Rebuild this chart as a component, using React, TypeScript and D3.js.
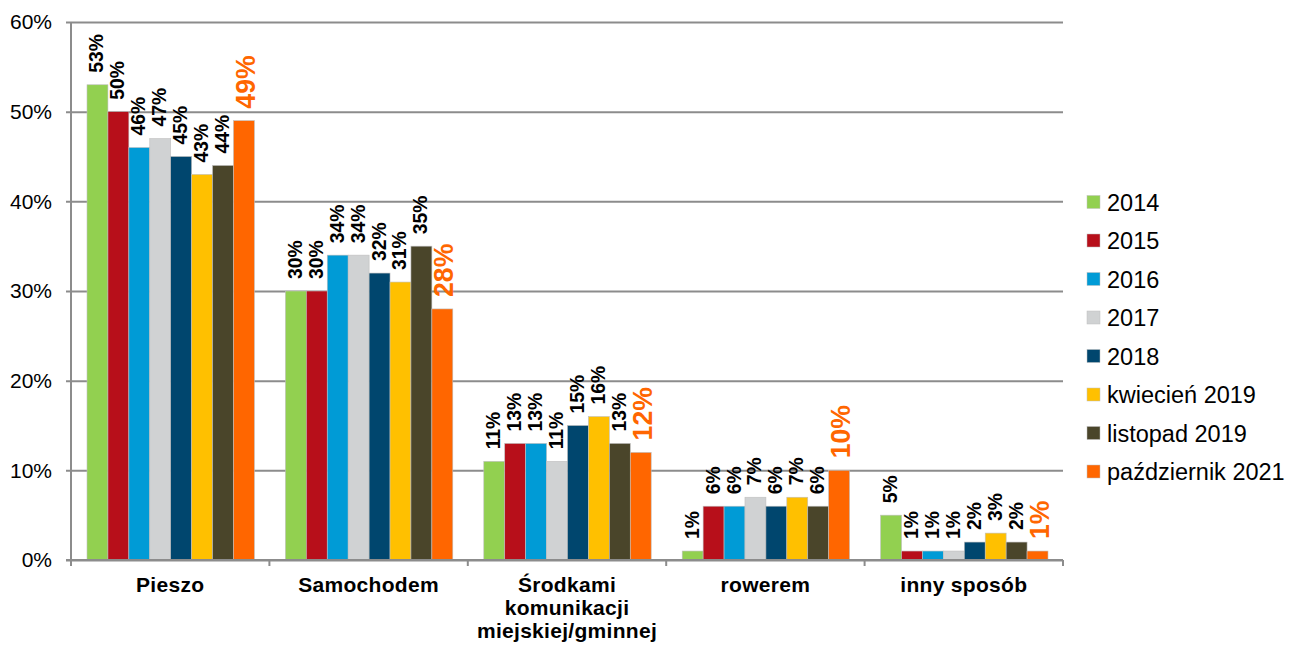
import React, { useEffect, useRef } from 'react';
import * as d3 from 'd3';

const categories = ['Pieszo', 'Samochodem', 'Środkami\nkomunikacji\nmiejskiej/gminnej', 'rowerem', 'inny sposób'];
const seriesNames = ['2014', '2015', '2016', '2017', '2018', 'kwiecień 2019', 'listopad 2019', 'październik 2021'];
const seriesColors = ['#92D050', '#B70F1A', '#009BD6', '#D0D2D3', '#00466E', '#FFC000', '#4A452A', '#FF6600'];
const values2014 = [53, 30, 11, 1, 5];
const values2015 = [50, 30, 13, 6, 1];
const values2016 = [46, 34, 13, 6, 1];
const values2017 = [47, 34, 11, 7, 1];
const values2018 = [45, 32, 15, 6, 2];
const valuesApr2019 = [43, 31, 16, 7, 3];
const valuesNov2019 = [44, 35, 13, 6, 2];
const valuesOct2021 = [49, 28, 12, 10, 1];
const allSeries = [values2014, values2015, values2016, values2017, values2018, valuesApr2019, valuesNov2019, valuesOct2021];
const yTicks = [0, 10, 20, 30, 40, 50, 60];

export default function App() {
    const svgRef = useRef<SVGSVGElement>(null);

    useEffect(() => {
        document.body.style.margin = '0';
        if (!svgRef.current) return;
        const width = 1296;
        const height = 646;
        const margin = { top: 22, right: 233, bottom: 86, left: 71 };
        const innerWidth = width - margin.left - margin.right;
        const innerHeight = height - margin.top - margin.bottom;
        const font = 'Liberation Sans, Arial, sans-serif';

        d3.select(svgRef.current).selectAll('*').remove();
        const svg = d3.select(svgRef.current).attr('width', width).attr('height', height);
        const g = svg.append('g').attr('transform', `translate(${margin.left},${margin.top})`);

        const x0 = d3.scaleBand<number>()
            .domain(categories.map((_, i) => i))
            .range([0, innerWidth]);
        // bars take ~84% of each category, a little more gap on the left
        const x1 = d3.scaleBand<number>()
            .domain(seriesNames.map((_, i) => i))
            .range([16, x0.bandwidth() - 15]);
        const y = d3.scaleLinear().domain([0, 60]).range([innerHeight, 0]);

        // gridlines + y labels
        const yAxis = d3.axisLeft(y).tickValues(yTicks).tickSize(-innerWidth).tickFormat(d => `${d}%`);
        g.append('g')
            .call(yAxis)
            .call(s => s.select('.domain').remove())
            .call(s => s.selectAll('.tick line')
                .attr('x1', -5)
                .attr('stroke', '#8c8c8c').attr('stroke-width', 2))
            .call(s => s.selectAll('.tick text')
                .attr('x', -19)
                .attr('fill', '#000')
                .style('font-family', font)
                .style('font-size', '21px'));

        // left axis line
        g.append('line')
            .attr('x1', 0).attr('x2', 0)
            .attr('y1', 0).attr('y2', innerHeight)
            .attr('stroke', '#8c8c8c').attr('stroke-width', 2);

        // bars + rotated value labels
        categories.forEach((cat, ci) => {
            const grp = g.append('g').attr('transform', `translate(${x0(ci)},0)`);
            allSeries.forEach((vals, si) => {
                const v = vals[ci];
                const bx = x1(si)!;
                const bw = x1.bandwidth();
                grp.append('rect')
                    .attr('x', bx)
                    .attr('y', y(v))
                    .attr('width', bw)
                    .attr('height', innerHeight - y(v))
                    .attr('fill', seriesColors[si])
                    .attr('stroke', '#bfbfbf')
                    .attr('stroke-width', 0.6);
                const isLast = si === allSeries.length - 1;
                grp.append('text')
                    .attr('transform', `translate(${bx + bw / 2 + (isLast ? 11 : 6)},${y(v) - 12}) rotate(-90) scale(${isLast ? 0.95 : 0.92},1)`)
                    .attr('text-anchor', 'start')
                    .attr('fill', isLast ? '#FF6600' : '#000')
                    .style('font-family', font)
                    .style('font-weight', 'bold')
                    .style('font-size', isLast ? '28px' : '21px')
                    .text(`${v}%`);
            });
        });

        // bottom axis
        g.append('line')
            .attr('x1', -5).attr('x2', innerWidth)
            .attr('y1', innerHeight).attr('y2', innerHeight)
            .attr('stroke', '#8c8c8c').attr('stroke-width', 2);
        const boundaries = categories.map((_, i) => x0(i)!).concat([innerWidth]);
        boundaries.forEach(bx => {
            g.append('line')
                .attr('x1', bx).attr('x2', bx)
                .attr('y1', innerHeight).attr('y2', innerHeight + 6)
                .attr('stroke', '#8c8c8c').attr('stroke-width', 2);
        });

        categories.forEach((cat, ci) => {
            const lines = cat.split('\n');
            const cx = x0(ci)! + x0.bandwidth() / 2;
            const t = g.append('text')
                .attr('x', cx)
                .attr('y', innerHeight + 32)
                .attr('text-anchor', 'middle')
                .attr('fill', '#000')
                .style('font-family', font)
                .style('font-weight', 'bold')
                .style('font-size', '21px')
                .style('letter-spacing', '0.3px');
            lines.forEach((ln, li) => {
                t.append('tspan')
                    .attr('x', cx)
                    .attr('dy', li === 0 ? 0 : 23)
                    .text(ln);
            });
        });

        // legend
        const legend = svg.append('g').attr('transform', 'translate(1087,202)');
        seriesNames.forEach((name, i) => {
            const row = legend.append('g').attr('transform', `translate(0,${i * 38.5})`);
            row.append('rect')
                .attr('x', 0).attr('y', -6.5)
                .attr('width', 13).attr('height', 13)
                .attr('fill', seriesColors[i])
                .attr('stroke', '#bfbfbf')
                .attr('stroke-width', 0.5);
            row.append('text')
                .attr('x', 20).attr('y', 8.5)
                .attr('fill', '#000')
                .style('font-family', font)
                .style('font-size', '23.5px')
                .text(name);
        });
    }, []);

    return <svg ref={svgRef}></svg>;
}
